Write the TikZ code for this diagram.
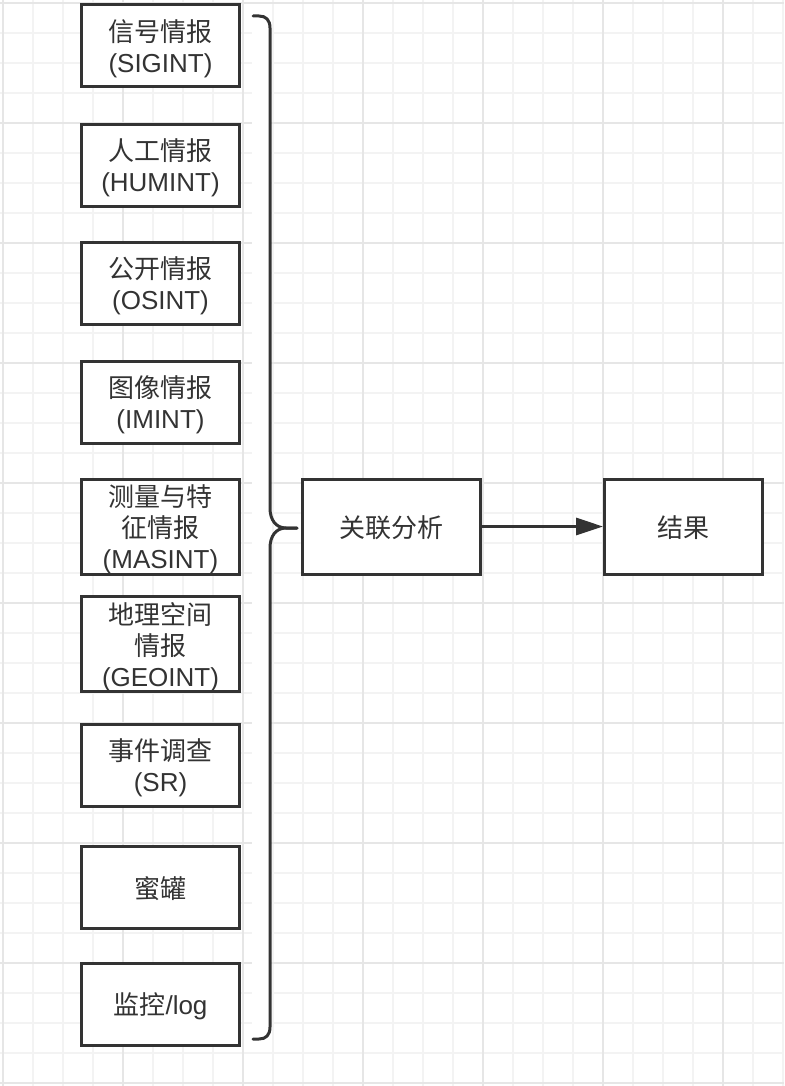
\documentclass[tikz,border=0pt]{standalone}
\usepackage{fontspec}
\setmainfont{Liberation Sans}
\newfontfamily\cjk{Noto Sans CJK SC}
\newcommand{\en}[1]{{\rmfamily #1}}
\usetikzlibrary{arrows.meta,positioning}
\definecolor{linegray}{HTML}{333333}
\definecolor{gridminor}{HTML}{F3F3F3}
\definecolor{gridmajor}{HTML}{E6E6E6}

\begin{document}
\begin{tikzpicture}[x=1pt, y=-1pt,
  box/.style={draw=linegray, line width=3pt, fill=white, minimum width=158pt, minimum height=82pt,
    inner sep=0pt, text depth=0pt, align=center, text=linegray, font=\cjk\fontsize{26}{31}\selectfont},
  tallbox/.style={box, minimum height=95pt},
  arr/.style={-{Triangle[length=27pt,width=17pt]}, draw=linegray, line width=3pt},
  brace/.style={draw=linegray, line width=3pt, line cap=round, line join=round},
]
  \useasboundingbox (0,0) rectangle (784,1086);

  % background grid
  \foreach \gx in {3,33,...,783} \draw[gridminor, line width=1.5pt] (\gx,0) -- (\gx,1086);
  \foreach \gy in {3,33,...,1083} \draw[gridminor, line width=1.5pt] (0,\gy) -- (784,\gy);
  \foreach \gx in {3,123,...,723} \draw[gridmajor, line width=1.5pt] (\gx,0) -- (\gx,1086);
  \foreach \gy in {3,123,...,1083} \draw[gridmajor, line width=1.5pt] (0,\gy) -- (784,\gy);

  % sources
  \node[box] (sigint) at (160.5,46) {信号情报\\\en{(SIGINT)}};
  \node[box] (humint) at (160.5,165.5) {人工情报\\\en{(HUMINT)}};
  \node[box] (osint) at (160.5,283.5) {公开情报\\\en{(OSINT)}};
  \node[box] (imint) at (160.5,402) {图像情报\\\en{(IMINT)}};
  \node[tallbox] (masint) at (160.5,527) {测量与特\\征情报\\\en{(MASINT)}};
  \node[tallbox] (geoint) at (160.5,644) {地理空间\\情报\\\en{(GEOINT)}};
  \node[box] (sr) at (160.5,765.5) {事件调查\\\en{(SR)}};
  \node[box] (honeypot) at (160.5,887.5) {蜜罐};
  \node[box] (monlog) at (160.5,1004) {监控\en{/log}};

  % analysis
  \node[tallbox, minimum width=178pt] (corr) at (391.5,526.5) {关联分析};
  \node[tallbox, right=121pt of corr] (result) {结果};

  % brace
  \coordinate (tip) at (297,528);
  \fill[white] (252,15) rectangle (270,1040);
  \draw[brace] (253,16) -- (259,16) .. controls (266,16) and (270,20) .. (270,28)
    -- (270,508) .. controls (270,520) and (276,528) .. (286,528) -- (tip);
  \draw[brace] (tip) -- (286,528) .. controls (276,528) and (270,536) .. (270,548)
    -- (270,1027) .. controls (270,1035) and (266,1039) .. (259,1039) -- (253,1039);

  \draw[arr] (corr.east) -- (result.west);
\end{tikzpicture}
\end{document}
